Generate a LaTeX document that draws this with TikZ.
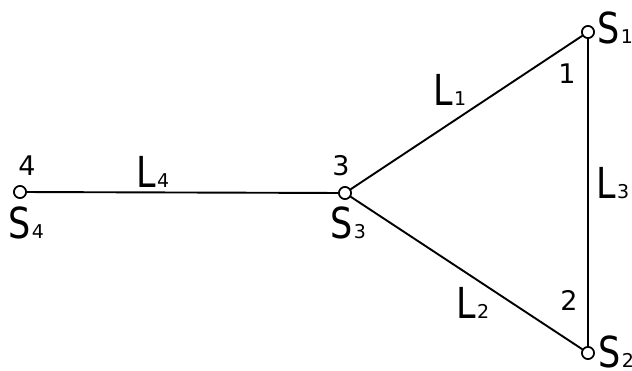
\documentclass[tikz,border=0pt]{standalone}
\usepackage{fontspec}
\setmainfont{DejaVu Sans}
\newcommand{\bigL}[1]{\scalebox{1}[1.22]{\fontsize{35}{35}\selectfont #1}}
\newcommand{\subtxt}{\fontsize{19}{19}\selectfont}
\newcommand{\numtxt}{\fontsize{27}{27}\selectfont}
\newcommand{\sym}[2]{\bigL{#1}\kern1.5pt{\subtxt #2}}
\begin{document}
\begin{tikzpicture}[x=1pt,y=-1pt,
  vertex/.style={circle,draw,fill=white,line width=1.6pt,minimum size=12pt,inner sep=0pt},
  edge/.style={line width=1.9pt},
  lab/.style={inner sep=0pt,anchor=base west},
  numlab/.style={inner sep=0pt,anchor=base,font=\numtxt}]
\useasboundingbox (0,0) rectangle (632,370);
\node[vertex] (s1) at (588,32) {};
\node[vertex] (s2) at (588,353) {};
\node[vertex] (s3) at (345,193) {};
\node[vertex] (s4) at (20,192) {};
\draw[edge] (s4) -- (s3);
\draw[edge] (s3) -- (s1);
\draw[edge] (s3) -- (s2);
\draw[edge] (s1) -- (s2);
\node[vertex] at (s1) {};
\node[vertex] at (s2) {};
\node[vertex] at (s3) {};
\node[vertex] at (s4) {};
\node[lab] (l1) at (433,105) {\sym{L}{1}};
\node[lab] (l2) at (456,318) {\sym{L}{2}};
\node[lab] (l3) at (596,198) {\sym{L}{3}};
\node[lab] (l4) at (136,187) {\sym{L}{4}};
\node[lab] (n1) at (597,43) {\sym{S}{1}};
\node[lab] (n2) at (598,367) {\sym{S}{2}};
\node[lab] (n3) at (330,238) {\sym{S}{3}};
\node[lab] (n4) at (8,238) {\sym{S}{4}};
\node[numlab] (d1) at (567,83) {1};
\node[numlab] (d2) at (569,310) {2};
\node[numlab] (d3) at (341,175) {3};
\node[numlab] (d4) at (27,175) {4};
\end{tikzpicture}
\end{document}
